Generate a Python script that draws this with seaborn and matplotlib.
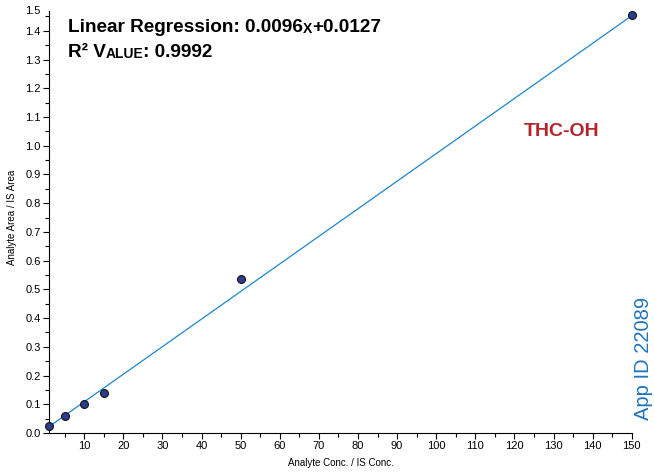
import numpy as np
import pandas as pd
import matplotlib
matplotlib.use("Agg")
import matplotlib.pyplot as plt
import seaborn as sns
from matplotlib.ticker import MultipleLocator, FormatStrFormatter, FixedLocator

# calibration data
conc = [1, 5, 10, 15, 50, 150]
area_ratio = [0.025, 0.06, 0.10, 0.14, 0.535, 1.455]
slope = 0.0096
intercept = 0.0127
r2 = 0.9992
compound = "THC-OH"
app_id = "App ID 22089"
y_ticks = [round(0.1 * i, 1) for i in range(15)]

df = pd.DataFrame({"conc": conc, "ratio": area_ratio})
fit_x = np.array([min(conc), max(conc)])
fit = pd.DataFrame({"conc": fit_x, "ratio": slope * fit_x + intercept})

sns.set_style("ticks")
plt.rcParams["font.family"] = ["Liberation Sans", "DejaVu Sans"]
plt.rcParams["text.color"] = "black"
plt.rcParams["axes.labelcolor"] = "black"
plt.rcParams["xtick.color"] = "black"
plt.rcParams["ytick.color"] = "black"
plt.rcParams["axes.edgecolor"] = "black"

fig = plt.figure(figsize=(6.54, 4.74), dpi=100)
ax = fig.add_axes([0.075, 0.0865, 0.891, 0.909])

sns.lineplot(data=fit, x="conc", y="ratio", ax=ax, color="#1f86cc", linewidth=0.9,
             clip_on=False)
sns.scatterplot(data=df, x="conc", y="ratio", ax=ax, s=32, color="#2a3d91",
                edgecolor="#111111", linewidth=0.8, clip_on=False, zorder=3)

ax.set_xlim(1, 150)
ax.set_ylim(0, 1.5)
ax.xaxis.set_major_locator(MultipleLocator(10))
ax.xaxis.set_minor_locator(MultipleLocator(5))
ax.yaxis.set_major_locator(FixedLocator(y_ticks))
ax.yaxis.set_minor_locator(FixedLocator([t + 0.05 for t in y_ticks]))
ax.yaxis.set_major_formatter(FormatStrFormatter("%.1f"))
ax.tick_params(axis="both", which="major", labelsize=8, length=4, width=0.8, pad=2)
ax.tick_params(axis="both", which="minor", length=3, width=0.8)
ax.set_xlabel("Analyte Conc. / IS Conc.", fontsize=7, labelpad=5)
ax.set_ylabel("Analyte Area / IS Area", fontsize=7, labelpad=6)
sns.despine(ax=ax)
for s in ["left", "bottom"]:
    ax.spines[s].set_linewidth(0.8)
ax.spines["left"].set_bounds(0, 1.47)

# top axis label sits at the end of the spine
ax.annotate("1.5", xy=(0, 1.47), xycoords=("axes fraction", "data"),
            xytext=(-6, 0), textcoords="offset points", ha="right", va="center",
            fontsize=8)

# equation text with small caps pieces
big = 13.7
small = 10
t1 = ax.text(0.032, 0.93, "Linear Regression: %.4f" % slope, transform=ax.transAxes,
             fontsize=big, fontweight="bold", va="baseline")
t2 = ax.annotate("X", xy=(1, 0), xycoords=t1, va="bottom", fontsize=small,
                 fontweight="bold")
ax.annotate("+%.4f" % intercept, xy=(1, 0), xycoords=t2, va="bottom", fontsize=big,
            fontweight="bold")
r1 = ax.text(0.032, 0.872, "R² V", transform=ax.transAxes,
             fontsize=big, fontweight="bold", va="baseline")
r2t = ax.annotate("ALUE", xy=(1, 0), xycoords=r1, va="bottom", fontsize=small,
                  fontweight="bold")
ax.annotate(": %.4f" % r2, xy=(1, 0), xycoords=r2t, va="bottom", fontsize=big,
            fontweight="bold")

ax.text(0.88, 0.7, compound, transform=ax.transAxes, fontsize=14,
        color="#b3242b", fontweight="bold", va="center", ha="center")
fig.text(0.984, 0.114, app_id, rotation=90, fontsize=14.5, color="#1f74c1",
         ha="center", va="bottom")

fig.savefig("out.png", dpi=100)
